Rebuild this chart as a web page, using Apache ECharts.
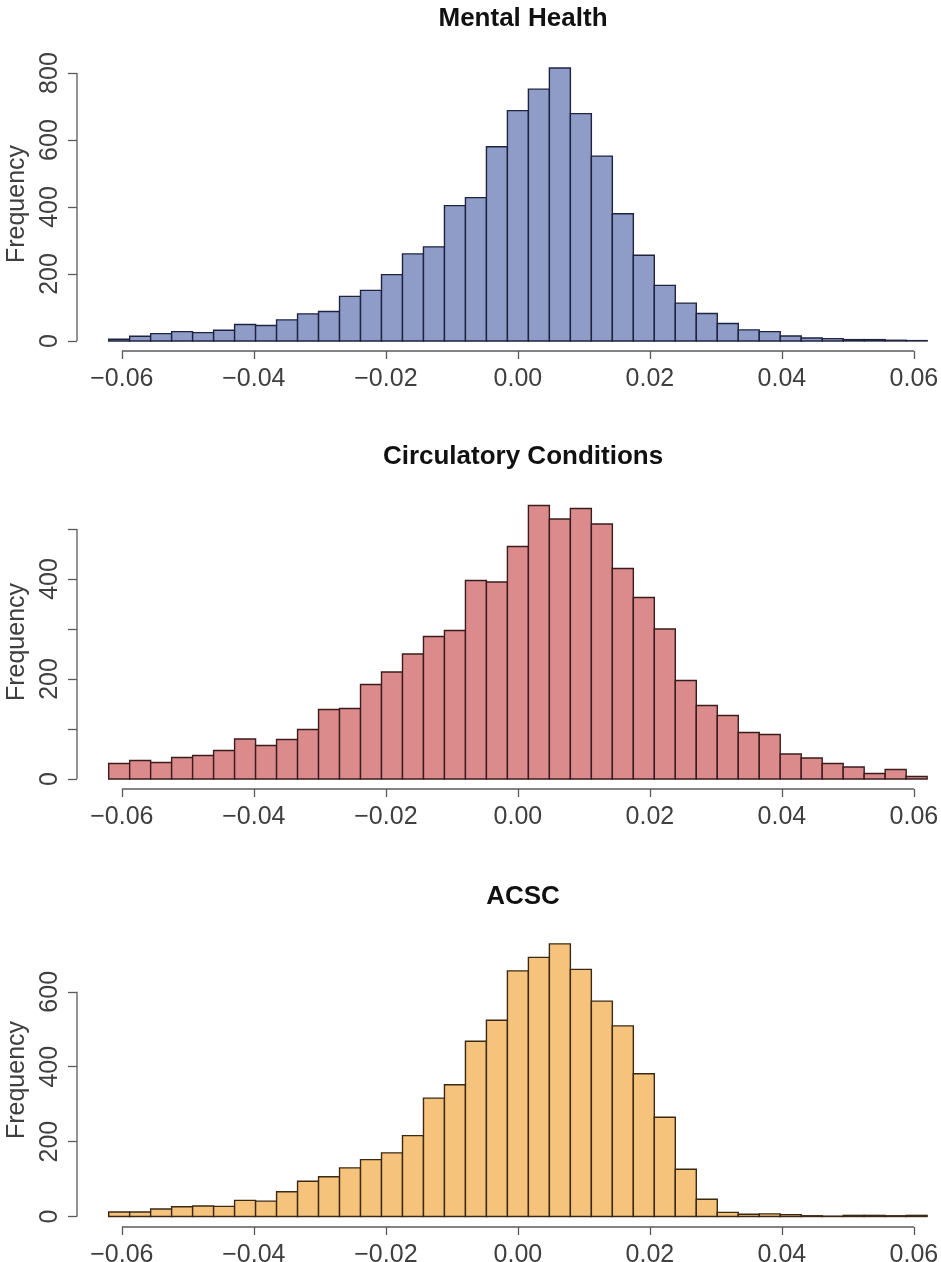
<!DOCTYPE html>
<html>
<head>
<meta charset="utf-8">
<script src="https://cdn.jsdelivr.net/npm/echarts@6.0.0/dist/echarts.min.js"></script>
<style>
  html, body { margin: 0; padding: 0; background: #fff; }
  #chart { width: 941px; height: 1262px; }
</style>
</head>
<body>
<div id="chart"></div>
<script>
// histogram bins: 39 equal bins from -0.062 to 0.062
const binCount = 39
const binLow = -0.062
const binHigh = 0.062
const xTicks = [-0.06, -0.04, -0.02, 0, 0.02, 0.04, 0.06]

// frequencies, left to right
const mentalHealth = [5, 14, 22, 28, 25, 32, 49, 46, 63, 81, 88, 133, 151, 198, 260, 281, 404, 428, 580,
  688,
  752, 815, 679, 552, 380, 256, 166, 113, 82, 52, 33, 28, 15, 9, 7, 4, 4, 2, 1]
const circulatory = [31, 37, 33, 43, 47, 57, 80, 67, 79, 99, 139, 141, 189, 214, 250, 285, 297, 397, 394,
  465,
  547, 520, 541, 510, 421, 363, 300, 197, 147, 127, 93, 89, 50, 42, 31, 24, 11, 19, 5]
const acsc = [12, 12, 20, 26, 28, 27, 43, 41, 66, 94, 106, 130, 152, 170, 216, 316, 352, 468, 524,
  656,
  692, 728, 660, 575, 509, 381, 265, 126, 46, 11, 6, 7, 5, 2, 1, 3, 3, 2, 3]

const mentalTicks = [0, 200, 400, 600, 800]
const mentalLabels = [0, 200, 400, 600, 800]
const circTicks = [0, 100, 200, 300, 400, 500]
const circLabels = [0, 200, 400]
const acscTicks = [0, 200, 400, 600]
const acscLabels = [0, 200, 400, 600]

const titles = ['Mental Health', 'Circulatory Conditions', 'ACSC']

// layout / style per panel
const panels = [
  { title: titles[0], data: mentalHealth, ticks: mentalTicks, labels: mentalLabels,
    yMin: -30, yMax: 848, top: 57, titleTop: 1, fill: '#8f9cc8', stroke: '#1e2440' },
  { title: titles[1], data: circulatory, ticks: circTicks, labels: circLabels,
    yMin: -20, yMax: 568, top: 495, titleTop: 439, fill: '#dc8b8d', stroke: '#3a1c1c' },
  { title: titles[2], data: acsc, ticks: acscTicks, labels: acscLabels,
    yMin: -28, yMax: 757, top: 933, titleTop: 879, fill: '#f6c37c', stroke: '#3a2a14' }
]

const xMin = -0.0668
const xMax = 0.0641
const gridHeight = 294
const fontFamily = 'Liberation Sans, Arial, sans-serif'
const axisColor = '#5a5a5a'
const labelColor = '#3f3f3f'

const binWidth = (binHigh - binLow) / binCount

function fmtX(v) {
  if (Math.abs(v) < 1e-9) return '0.00'
  return (v < 0 ? '\u2212' : '') + Math.abs(v).toFixed(2)
}

let option = {
  backgroundColor: '#fff',
  animation: false,
  title: [],
  grid: [],
  xAxis: [],
  yAxis: [],
  series: []
}

panels.forEach((p, k) => {
  option.title.push({
    text: p.title,
    left: 518,
    textAlign: 'center',
    top: p.titleTop,
    textStyle: { fontFamily: fontFamily, fontSize: 26, fontWeight: 'bold', color: '#111' }
  })
  option.grid.push({
    left: 77, right: 0, top: p.top, height: gridHeight,
    containLabel: false,
    outerBoundsMode: 'none'
  })
  option.xAxis.push({
    type: 'value',
    gridIndex: k,
    min: xMin,
    max: xMax,
    axisLine: { show: false, onZero: false },
    splitLine: { show: false },
    axisTick: { show: true, customValues: xTicks, length: 8, lineStyle: { color: axisColor, width: 1.3 } },
    axisLabel: {
      customValues: xTicks,
      formatter: fmtX,
      margin: 16,
      fontFamily: fontFamily,
      fontSize: 25,
      color: labelColor
    }
  })
  option.yAxis.push({
    type: 'value',
    gridIndex: k,
    min: p.yMin,
    max: p.yMax,
    name: 'Frequency',
    nameLocation: 'middle',
    nameGap: 41,
    nameTextStyle: { fontFamily: fontFamily, fontSize: 25, color: labelColor },
    axisLine: { show: false, onZero: false },
    splitLine: { show: false },
    axisTick: { show: true, customValues: p.ticks, length: 9, lineStyle: { color: axisColor, width: 1.3 } },
    axisLabel: {
      customValues: p.labels,
      rotate: 90,
      margin: 14,
      fontFamily: fontFamily,
      fontSize: 25,
      color: labelColor
    }
  })

  let barData = p.data.map((v, i) => [binLow + i * binWidth, binLow + (i + 1) * binWidth, v])

  option.series.push({
    type: 'custom',
    xAxisIndex: k,
    yAxisIndex: k,
    data: barData,
    encode: { x: [0, 1], y: 2 },
    renderItem: function (params, api) {
      let base = api.coord([api.value(0), 0])
      let tip = api.coord([api.value(1), api.value(2)])
      return {
        type: 'rect',
        shape: { x: base[0], y: tip[1], width: tip[0] - base[0], height: base[1] - tip[1] },
        style: { fill: p.fill, stroke: p.stroke, lineWidth: 1.4 }
      }
    }
  })

  // R style axis lines, running only from the first to the last tick
  const axisLineStyle = { color: axisColor, width: 1.3 }
  option.series.push({
    type: 'line',
    xAxisIndex: k,
    yAxisIndex: k,
    silent: true,
    clip: false,
    symbol: 'none',
    lineStyle: axisLineStyle,
    data: [[xTicks[0], p.yMin], [xTicks[xTicks.length - 1], p.yMin]]
  })
  option.series.push({
    type: 'line',
    xAxisIndex: k,
    yAxisIndex: k,
    silent: true,
    clip: false,
    symbol: 'none',
    lineStyle: axisLineStyle,
    data: [[xMin, p.ticks[0]], [xMin, p.ticks[p.ticks.length - 1]]]
  })
})

let myChart = echarts.init(document.getElementById('chart'))
myChart.setOption(option)
</script>
</body>
</html>
